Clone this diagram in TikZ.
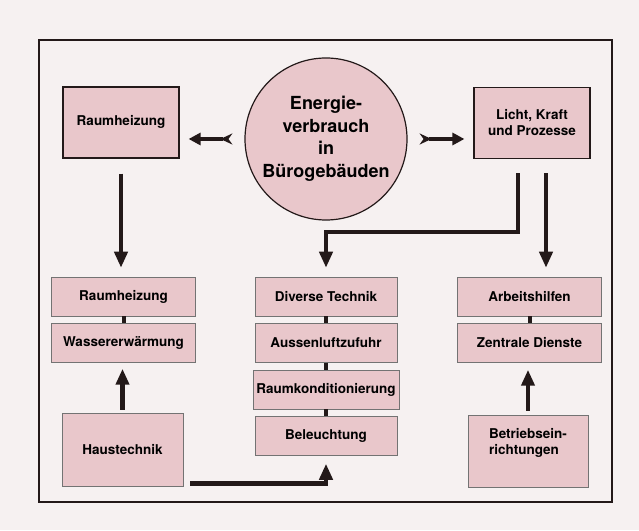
\documentclass[tikz,border=0pt]{standalone}
\usepackage{fontspec}
\setmainfont{TeX Gyre Heros}
\usepackage{xcolor}
\usetikzlibrary{chains,fit,shapes}
\usetikzlibrary{arrows.meta,calc,positioning}
\definecolor{boxpink}{RGB}{233,199,203}
\definecolor{paper}{RGB}{246,241,241}
\definecolor{ink}{RGB}{35,25,25}

\begin{document}
\begin{tikzpicture}[x=1pt,y=1pt]
	\tikzstyle{rahmen}=[draw=ink,line width=1.2pt]
	\tikzstyle{kreis}=[circle,draw=ink,line width=1.2pt,fill=boxpink,minimum size=162pt,inner sep=0pt,align=center,font=\bfseries\fontsize{18}{22.5}\selectfont]
	\tikzstyle{haupt}=[draw=ink,line width=1.2pt,fill=boxpink,minimum width=116pt,minimum height=71pt,align=center,font=\bfseries\fontsize{13.5}{16}\selectfont]
	\tikzstyle{quelle}=[draw=black!55,line width=0.5pt,fill=boxpink,minimum width=121pt,minimum height=73pt,font=\bfseries\fontsize{13.5}{16}\selectfont]
	\tikzstyle{stufe}=[draw=black!55,line width=0.5pt,fill=boxpink,minimum width=144pt,minimum height=39pt,font=\bfseries\fontsize{13.5}{16}\selectfont]
	\tikzstyle{pfeil}=[draw=ink,line width=4.5pt,-{Triangle[length=16pt,width=13pt]}]
	\tikzstyle{feder}=[draw=ink,line width=3.5pt,{Stealth[reversed,length=12pt,width=11pt,inset=4pt]}-{Triangle[length=12pt,width=12pt]}]
	\tikzstyle{steg}=[draw=ink,line width=4pt]

	%% Background and frame
	\fill[paper] (0,0) rectangle (639,530);
	\draw[rahmen] (39,28) rectangle (612,490);

	%% Top row
	\node [kreis] (verbrauch) at (326,391) {Energie-\\verbrauch\\in\\Bürogebäuden};
	\node [haupt] (heizung) at (121,407.5) {\raisebox{5pt}{Raumheizung}};
	\node [haupt] (licht) at (532,407) {Licht, Kraft\\und Prozesse};

	%% Stacks
	\begin{scope}[start chain=links going below,node distance=7pt]
	    \node [on chain=links,stufe] (heizung2) at (123.5,233.5) {Raumheizung};
	    \node [on chain=links,stufe] (wasser) {Wassererwärmung};
	\end{scope}
	\begin{scope}[start chain=mitte going below,node distance=7pt]
	    \node [on chain=mitte,stufe,minimum width=142pt] (divers) at (326,233.5) {Diverse Technik};
	    \node [on chain=mitte,stufe,minimum width=142pt] (aussen) {Aussenluftzufuhr};
	    \node [on chain=mitte,stufe,minimum width=142pt] (raumkond) {Raumkonditionierung};
	    \node [on chain=mitte,stufe,minimum width=142pt] (beleucht) {Beleuchtung};
	\end{scope}
	\begin{scope}[start chain=rechts going below,node distance=7pt]
	    \node [on chain=rechts,stufe] (arbeit) at (529.5,233.5) {Arbeitshilfen};
	    \node [on chain=rechts,stufe] (zentral) {Zentrale Dienste};
	\end{scope}

	%% Bottom row
	\node [quelle] (haus) at (122.5,80.5) {Haustechnik};
	\node [quelle,minimum width=120pt,minimum height=72pt,align=left] (betrieb) at (528,79) {Betriebsein-\\richtungen\\[4pt]};

	%% Links inside the stacks
	\draw[steg] (heizung2) -- (wasser);
	\draw[steg] (divers) -- (aussen);
	\draw[steg] (aussen) -- (raumkond);
	\draw[steg] (raumkond) -- (beleucht);
	\draw[steg] (arbeit) -- (zentral);

	%% Arrows
	\draw[feder,shorten <=12pt,shorten >=9pt] (verbrauch.west) -- (verbrauch.west -| heizung.east);
	\draw[feder,shorten <=12pt,shorten >=9pt] (verbrauch.east) -- (verbrauch.east -| licht.west);
	\draw[pfeil,shorten <=15pt,shorten >=9pt] (heizung.south) -- (heizung.south |- heizung2.north);
	\draw[pfeil,shorten >=9pt] ([xshift=-14pt,yshift=-14pt]licht.south) -- ++(0,-59) -| (divers.north);
	\draw[pfeil,shorten <=14pt,shorten >=9pt] ([xshift=14pt]licht.south) -- ([xshift=14pt]licht.south |- arbeit.north);
	\draw[pfeil,shorten <=3pt,shorten >=6pt] (haus.north) -- (haus.north |- wasser.south);
	\draw[pfeil,shorten <=4pt,shorten >=7pt] (betrieb.north) -- (betrieb.north |- zentral.south);
	\draw[pfeil,shorten >=8pt] ([xshift=7pt,yshift=3pt]haus.south east) -| (beleucht.south);

\end{tikzpicture}
\end{document}
